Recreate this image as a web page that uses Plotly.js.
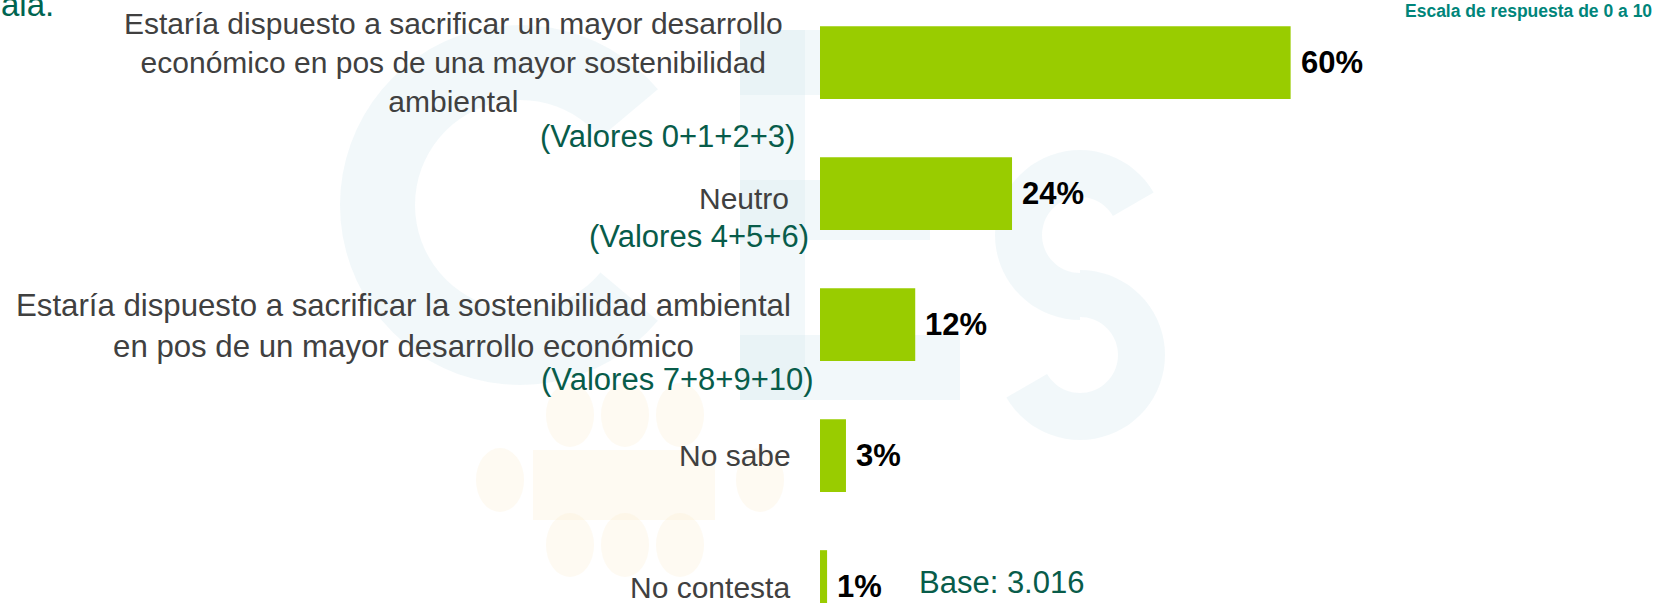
<!DOCTYPE html>
<html>
<head>
<meta charset="utf-8">
<script src="https://cdn.plot.ly/plotly-3.0.1.min.js"></script>
<style>html,body{margin:0;padding:0;background:#fff;}#chart{width:1656px;height:603px;}</style>
</head>
<body>
<div id="chart"></div>
<script>
// ---- data ----
const categories = [
  'Estaría dispuesto a sacrificar un mayor desarrollo<br>económico en pos de una mayor sostenibilidad<br>ambiental',
  'Neutro',
  'Estaría dispuesto a sacrificar la sostenibilidad ambiental<br>en pos de un mayor desarrollo económico',
  'No sabe',
  'No contesta'
];
const subLabels = ['(Valores 0+1+2+3)', '(Valores 4+5+6)', '(Valores 7+8+9+10)', '', ''];
const values = [59.8, 24.4, 12.1, 3.3, 0.9];
const valueLabels = ['60%', '24%', '12%', '3%', '1%'];
const baseNote = 'Base: 3.016';
const scaleNote = 'Escala de respuesta de 0 a 10';
const titleTail = 'ala.';

// ---- style ----
const FONT = 'Liberation Sans, Arial, Helvetica, sans-serif';
const GREY = '#404040';
const DKGREEN = '#085c4a';
const TEAL = '#00857a';
const BAR = '#99cc00';
const ML = 820, MR = 49, W = 1656, H = 603;
const PW = W - ML - MR;
const X = px => (px - ML) / PW;
const Y = py => 1 - py / H;

// label placement (pixel shifts)
const labelStyle = [
  {xs: -36, ys: 0, align: 'center', size: 30},
  {xs: -30, ys: -5, align: 'right', size: 30},
  {xs: -28, ys: -1, align: 'center', size: 31.2},
  {xs: -28, ys: 0, align: 'right', size: 30},
  {xs: -29, ys: -1, align: 'right', size: 30}
];
const subStyle = [
  {xs: -24, ys: -74},
  {xs: -10, ys: -43},
  {xs: -5, ys: -55}
];

const annotations = [];
categories.forEach((c, i) => {
  annotations.push({
    xref: 'paper', x: 0, xanchor: 'right', xshift: labelStyle[i].xs,
    yref: 'y', y: c, yanchor: 'middle', yshift: labelStyle[i].ys,
    text: c, align: labelStyle[i].align, showarrow: false, borderpad: 0,
    font: {family: FONT, size: labelStyle[i].size, color: GREY}
  });
  if (subLabels[i]) {
    annotations.push({
      xref: 'paper', x: 0, xanchor: 'right', xshift: subStyle[i].xs,
      yref: 'y', y: c, yanchor: 'middle', yshift: subStyle[i].ys,
      text: subLabels[i], showarrow: false, borderpad: 0,
      font: {family: FONT, size: 31, color: DKGREEN}
    });
  }
  annotations.push({
    xref: 'x', x: values[i], xanchor: 'left', xshift: 9,
    yref: 'y', y: c, yanchor: 'middle', yshift: 0,
    text: '<b>' + valueLabels[i] + '</b>', showarrow: false, borderpad: 0,
    font: {family: FONT, size: 31, color: '#000000'}
  });
});
annotations.push({
  xref: 'x', x: 0, xanchor: 'left', xshift: 98,
  yref: 'y', y: categories[4], yanchor: 'middle', yshift: 4,
  text: baseNote, showarrow: false, borderpad: 0,
  font: {family: FONT, size: 31, color: DKGREEN}
});
annotations.push({
  xref: 'paper', x: 1, xanchor: 'right', xshift: MR - 3,
  yref: 'paper', y: 1, yanchor: 'top', yshift: 0,
  text: '<b>' + scaleNote + '</b>', showarrow: false, borderpad: 0,
  font: {family: FONT, size: 17.5, color: TEAL}
});
annotations.push({
  xref: 'paper', x: 0, xanchor: 'left', xshift: -ML,
  yref: 'paper', y: 1, yanchor: 'bottom', yshift: -24,
  text: titleTail, showarrow: false, borderpad: 0,
  font: {family: FONT, size: 33, color: '#006450'}
});

// ---- faint background watermark (logo) ----
function ringPath(cx, cy, R, r, a0, a1) {
  const pts = [];
  for (let a = a0; a <= a1; a += 5) { const t = a * Math.PI / 180; pts.push([cx + R * Math.cos(t), cy + R * Math.sin(t)]); }
  for (let a = a1; a >= a0; a -= 5) { const t = a * Math.PI / 180; pts.push([cx + r * Math.cos(t), cy + r * Math.sin(t)]); }
  return 'M' + pts.map(p => X(p[0]).toFixed(5) + ',' + Y(p[1]).toFixed(5)).join('L') + 'Z';
}
const WB = 'rgba(214,233,238,0.32)';
const WO = 'rgba(253,236,205,0.25)';
const shapes = [];
const bshape = (o) => Object.assign({xref: 'paper', yref: 'paper', layer: 'below', line: {width: 0}}, o);
shapes.push(bshape({type: 'path', path: ringPath(520, 205, 180, 105, 40, 320), fillcolor: WB}));
[[740, 30, 805, 400], [740, 30, 960, 95], [740, 180, 930, 240], [740, 335, 960, 400]].forEach(r => {
  shapes.push(bshape({type: 'rect', x0: X(r[0]), x1: X(r[2]), y0: Y(r[3]), y1: Y(r[1]), fillcolor: WB}));
});
shapes.push(bshape({type: 'path', path: ringPath(1080, 235, 85, 38, 90, 330), fillcolor: WB}));
shapes.push(bshape({type: 'path', path: ringPath(1080, 355, 85, 38, 270, 510), fillcolor: WB}));
// table + chairs
[[570, 415], [625, 415], [680, 415], [570, 545], [625, 545], [680, 545]].forEach(c => {
  shapes.push(bshape({type: 'circle', x0: X(c[0] - 24), x1: X(c[0] + 24), y0: Y(c[1] + 32), y1: Y(c[1] - 32), fillcolor: WO}));
});
[[500, 480], [760, 480]].forEach(c => {
  shapes.push(bshape({type: 'circle', x0: X(c[0] - 24), x1: X(c[0] + 24), y0: Y(c[1] + 32), y1: Y(c[1] - 32), fillcolor: WO}));
});
shapes.push(bshape({type: 'rect', x0: X(533), x1: X(715), y0: Y(520), y1: Y(450), fillcolor: WO}));

const trace = {
  type: 'bar', orientation: 'h',
  x: values, y: categories,
  marker: {color: BAR, line: {width: 0}},
  hoverinfo: 'skip'
};

const layout = {
  width: W, height: H,
  margin: {l: ML, r: MR, t: 0, b: 0, pad: 0},
  paper_bgcolor: '#ffffff', plot_bgcolor: 'rgba(0,0,0,0)',
  showlegend: false,
  bargap: 0.444,
  xaxis: {range: [0, 100], visible: false, fixedrange: true},
  yaxis: {type: 'category', range: [4.1252, -0.4779], visible: false, fixedrange: true},
  annotations: annotations,
  shapes: shapes,
  font: {family: FONT}
};

Plotly.newPlot('chart', [trace], layout, {displayModeBar: false, staticPlot: true});
</script>
</body>
</html>
